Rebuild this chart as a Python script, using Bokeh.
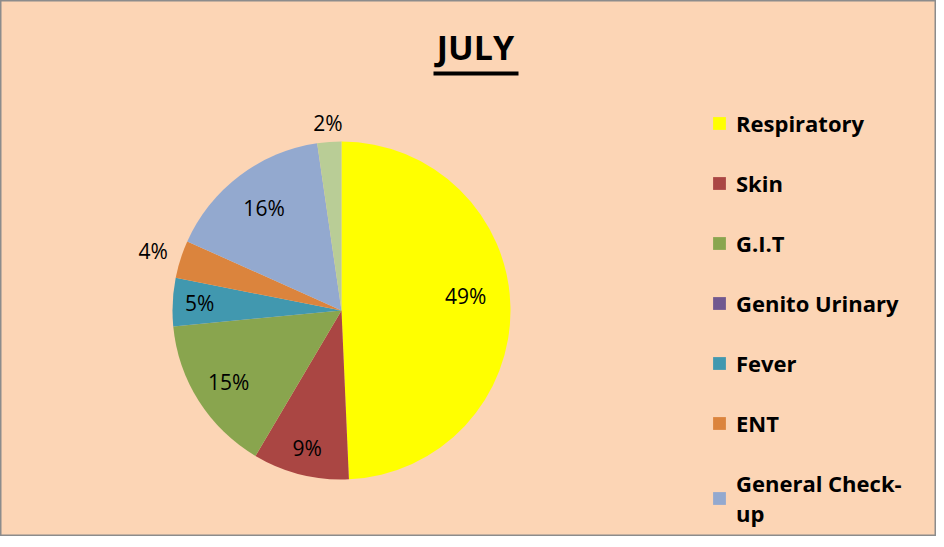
import math
from bokeh.plotting import figure
from bokeh.models import Range1d, Legend, LegendItem, Label, BoxAnnotation, ColumnDataSource
from bokeh.core.properties import value
from bokeh.embed import file_html
from bokeh.resources import INLINE

# ---- data ----
categories = ["Respiratory", "Skin", "G.I.T", "Genito Urinary", "Fever", "ENT", "General Check-up", "Others"]
legend_labels = ["Respiratory", "Skin", "G.I.T", "Genito Urinary", "Fever", "ENT", "General Check-\nup"]
values = [49.3, 9.2, 15.0, 0.0, 4.6, 3.6, 16.0, 2.3]
colors = ["#FFFF00", "#AA4643", "#89A54E", "#71588F", "#4198AF", "#DB843D", "#93A9CF", "#B9CD96"]
title_text = "JULY"

# ---- layout ----
W, H = 936, 536
BG = "#FCD5B5"
cx, cy, R = 341, 226, 169
label_factor = [0.74, 0.84, 0.79, 0.8, 0.84, 1.17, 0.76, 1.11]
label_shift_deg = [5.3, 0, 0, 0, 0, 0, 0, 0]

total = sum(values)
starts, ends, radii, lx, ly, ltxt = [], [], [], [], [], []
cum = 0.0
for i, v in enumerate(values):
    a0 = math.pi / 2 - 2 * math.pi * cum / total
    cum += v
    a1 = math.pi / 2 - 2 * math.pi * cum / total
    starts.append(a0)
    ends.append(a1)
    radii.append(R if v > 0 else 0)
    if v > 0:
        mid = (a0 + a1) / 2 + math.radians(label_shift_deg[i])
        lx.append(cx + label_factor[i] * R * math.cos(mid))
        ly.append(cy + label_factor[i] * R * math.sin(mid))
        ltxt.append(f"{round(v / total * 100)}%")

src = ColumnDataSource(dict(cat=categories, val=values, start=starts, end=ends,
                            color=colors, radius=radii))

p = figure(width=W, height=H, output_backend="svg", toolbar_location=None,
           x_range=Range1d(0, W), y_range=Range1d(0, H), min_border=0,
           background_fill_color=BG, border_fill_color=BG,
           outline_line_color="#8C8C8C", outline_line_width=2)
p.axis.visible = False
p.grid.visible = False

r = p.wedge(x=cx, y=cy, radius="radius", start_angle="start", end_angle="end", direction="clock",
            fill_color="color", line_color=None, source=src)

p.text(x=lx, y=ly, text=ltxt, text_font=value("Open Sans"), text_font_size="21px",
       text_color="#000000", text_align="center", text_baseline="middle")

items = [LegendItem(label=legend_labels[i], renderers=[r], index=i) for i in range(len(legend_labels))]
legend = Legend(items=items, location=(711, 8), background_fill_alpha=0, border_line_color=None,
                label_text_font="Open Sans", label_text_font_style="bold", label_text_font_size="22px",
                label_text_color="#000000", label_text_line_height=1.65,
                glyph_width=16, glyph_height=16, label_standoff=9, label_height=30,
                spacing=30, padding=0, margin=0)
p.add_layout(legend)

p.add_layout(Label(x=475, y=490, text=title_text, text_font="Open Sans", text_font_style="bold",
                   text_font_size="34px", text_color="#000000",
                   text_align="center", text_baseline="alphabetic"))
p.add_layout(BoxAnnotation(left=433, right=518, bottom=461, top=465, fill_color="black",
                           fill_alpha=1, line_color=None))

open("out.html", "w").write(file_html(p, INLINE))
